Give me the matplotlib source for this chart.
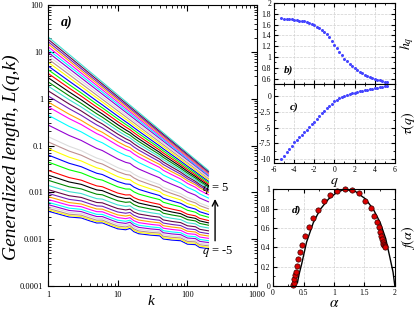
import numpy as np
import matplotlib
matplotlib.use('Agg')
import matplotlib.pyplot as plt
import matplotlib.ticker as ptick

plt.rcParams['font.family'] = ['Liberation Serif', 'DejaVu Serif']
plt.rcParams['mathtext.fontset'] = 'stix'

# ---- panel a: generalized length, log10 L at k=1 and k=200 (top line q=5 ... bottom q=-5)
k_knots = [1, 2, 3, 4, 5, 6, 8, 10, 13, 15, 17, 20, 30, 40, 45, 60, 80, 100, 130, 150, 200]
wiggle = [0, -0.02, 0.02, 0.0, -0.01, 0.02, -0.01, -0.03, -0.01, 0.04, -0.01,
          -0.03, 0.0, 0.03, -0.02, 0.0, 0.03, -0.01, 0.02, -0.02, 0]
logL_start = [1.32, 1.27, 1.22, 1.17, 1.11, 1.05, 0.99, 0.92, 0.85, 0.78, 0.70, 0.62,
              0.54, 0.45, 0.36, 0.27, 0.17, 0.06, -0.07, -0.17, -0.35, -0.56, -0.81,
              -0.92, -1.06, -1.20, -1.35, -1.53, -1.63, -1.74, -1.85, -1.94, -2.02,
              -2.09, -2.15, -2.21, -2.26, -2.30, -2.34, -2.37, -2.40]
logL_end = [-1.53, -1.55, -1.57, -1.59, -1.61, -1.63, -1.65, -1.68, -1.70, -1.73, -1.76,
            -1.79, -1.82, -1.85, -1.88, -1.91, -1.94, -1.97, -2.00, -2.05, -2.12, -2.20,
            -2.30, -2.35, -2.41, -2.47, -2.53, -2.60, -2.65, -2.70, -2.76, -2.82, -2.88,
            -2.93, -2.98, -3.03, -3.07, -3.11, -3.14, -3.17, -3.20]
grace = ['#000000', '#ff0000', '#00ff00', '#0000ff', '#ffff00', '#bc8f8f', '#dcdcdc',
         '#9400d3', '#00ffff', '#ff00ff', '#ffa500', '#7221bc', '#670748', '#40e0d0',
         '#008b00']

# ---- panels b, c: h_q and tau(q)
q_vals = np.arange(-5.25, 5.26, 0.25)
h_q = [1.715, 1.712, 1.708, 1.703, 1.697, 1.69, 1.684, 1.677, 1.669, 1.66, 1.647, 1.632,
       1.613, 1.59, 1.565, 1.535, 1.503, 1.47, 1.42, 1.37, 1.30, 1.23, 1.16, 1.09, 1.03,
       0.97, 0.92, 0.87, 0.83, 0.79, 0.76, 0.725, 0.695, 0.67, 0.65, 0.63, 0.61, 0.595,
       0.58, 0.565, 0.553, 0.542, 0.532]
tau_q = [-10.1, -9.55, -9.0, -8.45, -7.9, -7.34, -6.94, -6.54, -6.14, -5.74, -5.32, -4.9,
         -4.47, -4.04, -3.6, -3.16, -2.72, -2.29, -1.9, -1.5, -1.14, -0.80, -0.52, -0.27,
         -0.07, 0.1, 0.24, 0.37, 0.5, 0.62, 0.72, 0.82, 0.92, 1.02, 1.1, 1.18, 1.26, 1.34,
         1.42, 1.5, 1.58, 1.66, 1.74]

# ---- panel d: singularity spectrum
alpha_pts = [0.33, 0.34, 0.35, 0.36, 0.375, 0.39, 0.41, 0.45, 0.48, 0.53, 0.59, 0.65,
             0.73, 0.83, 0.94, 1.05, 1.174, 1.30, 1.41, 1.51, 1.60, 1.66, 1.71, 1.74,
             1.76, 1.78, 1.79, 1.80, 1.81, 1.82, 1.83, 1.84]
f_pts = [0.01, 0.03, 0.07, 0.11, 0.15, 0.21, 0.28, 0.35, 0.43, 0.52, 0.61, 0.70, 0.79,
         0.88, 0.94, 0.98, 1.0, 0.99, 0.96, 0.88, 0.81, 0.73, 0.66, 0.61, 0.56, 0.52,
         0.49, 0.46, 0.44, 0.42, 0.41, 0.40]
alpha_fit = [0.40, 0.43, 0.47, 0.55, 0.66, 0.77, 0.91, 1.05, 1.17, 1.35, 1.52, 1.65,
             1.76, 1.85, 1.91, 1.97, 2.0]
f_fit = [0.035, 0.13, 0.23, 0.455, 0.655, 0.79, 0.90, 0.97, 1.0, 0.98, 0.90, 0.79,
         0.655, 0.49, 0.32, 0.145, 0.0]

fig = plt.figure(figsize=(4.15, 3.11), dpi=100)
tfs = 6

ax1 = fig.add_axes([0.1157, 0.080, 0.504, 0.904])
n = len(logL_start)
lk = np.log10(k_knots)
for i in reversed(range(n)):
    w = np.clip((i - 8) / 30.0, 0, 1)
    logL = logL_start[i] + (logL_end[i] - logL_start[i]) * lk / np.log10(200) + w * np.array(wiggle)
    ax1.plot(k_knots, 10 ** logL, color=grace[(40 - i + 3) % 15], lw=0.8)
ax1.set_xscale('log')
ax1.set_yscale('log')
ax1.set_xlim(1, 1000)
ax1.set_ylim(1e-4, 100)
fmt = ptick.FuncFormatter(lambda v, p: '%g' % v)
ax1.xaxis.set_major_formatter(fmt)
ax1.yaxis.set_major_formatter(fmt)
ax1.tick_params(which='both', direction='in', top=True, right=True, labelsize=tfs)
ax1.tick_params(which='major', length=4)
ax1.tick_params(which='minor', length=2)
ax1.set_ylabel('Generalized length, L(q,k)', fontsize=14, style='italic')
ax1.yaxis.set_label_coords(-0.135, 0.46)
ax1.set_xlabel('k', fontsize=11, style='italic')
ax1.xaxis.set_label_coords(0.49, -0.03)
ax1.text(0.09, 0.94, 'a)', transform=ax1.transAxes, fontsize=10, style='italic',
         weight='bold', ha='center', va='center')
ax1.annotate('', xy=(249, 8.3e-3), xytext=(249, 8.1e-4),
             arrowprops=dict(arrowstyle='->', color='k', lw=1))
ax1.text(257, 0.0123, r'$q$ = 5', fontsize=9, ha='center', va='center')
ax1.text(275, 5.6e-4, r'$q$ = -5', fontsize=9, ha='center', va='center')

def style_small(ax):
    ax.grid(True, which='major', ls='--', color='#d0d0d0', lw=0.5)
    ax.set_axisbelow(True)
    ax.tick_params(which='both', direction='in', top=True, right=True, labelsize=5.5, pad=2)
    ax.tick_params(which='major', length=3)
    ax.tick_params(which='minor', length=1.5)

ax2 = fig.add_axes([0.660, 0.730, 0.2916, 0.260])
ax2.plot(q_vals, h_q, 'o', color='#4444ff', ms=2.2, mew=0)
ax2.set_xlim(-6, 6)
ax2.set_ylim(0.5, 2)
ax2.xaxis.set_major_locator(ptick.MultipleLocator(2))
ax2.xaxis.set_minor_locator(ptick.MultipleLocator(1))
ax2.yaxis.set_major_locator(ptick.FixedLocator([0.6, 0.8, 1, 1.2, 1.4, 1.6, 1.8, 2]))
ax2.yaxis.set_minor_locator(ptick.MultipleLocator(0.1))
ax2.yaxis.set_major_formatter(fmt)
ax2.set_xticklabels([])
style_small(ax2)
ax2.yaxis.set_label_position('right')
ax2.set_ylabel(r'$h_q$', fontsize=10)
ax2.yaxis.set_label_coords(1.03, 0.5)
ax2.text(0.12, 0.17, 'b)', transform=ax2.transAxes, fontsize=8, style='italic',
         weight='bold', ha='center', va='center')

ax3 = fig.add_axes([0.660, 0.476, 0.2916, 0.254])
ax3.plot(q_vals, tau_q, 'o', color='#4444ff', ms=2.2, mew=0)
ax3.set_xlim(-6, 6)
ax3.set_ylim(-10.7, 2)
ax3.xaxis.set_major_locator(ptick.MultipleLocator(2))
ax3.xaxis.set_minor_locator(ptick.MultipleLocator(1))
ax3.yaxis.set_major_locator(ptick.FixedLocator([-10, -7.5, -5, -2.5, 0]))
ax3.yaxis.set_minor_locator(ptick.MultipleLocator(1.25))
ax3.yaxis.set_major_formatter(fmt)
ax3.xaxis.set_major_formatter(fmt)
style_small(ax3)
ax3.yaxis.set_label_position('right')
ax3.set_ylabel(r'$\tau(q)$', fontsize=10)
ax3.yaxis.set_label_coords(1.03, 0.5)
ax3.set_xlabel(r'$q$', fontsize=10)
ax3.xaxis.set_label_coords(0.5, -0.17)
ax3.text(0.165, 0.70, 'c)', transform=ax3.transAxes, fontsize=8, style='italic',
         weight='bold', ha='center', va='center')

ax4 = fig.add_axes([0.658, 0.080, 0.2935, 0.311])
ax4.plot(alpha_fit, f_fit, color='k', lw=1)
ax4.plot(alpha_pts, f_pts, 'o', color='#dd0000', mec='#330000', mew=0.5, ms=3.8, clip_on=False)
ax4.set_xlim(0, 2)
ax4.set_ylim(0, 1)
ax4.xaxis.set_major_locator(ptick.MultipleLocator(0.5))
ax4.xaxis.set_minor_locator(ptick.MultipleLocator(0.25))
ax4.yaxis.set_major_locator(ptick.MultipleLocator(0.2))
ax4.yaxis.set_minor_locator(ptick.MultipleLocator(0.1))
ax4.xaxis.set_major_formatter(fmt)
ax4.yaxis.set_major_formatter(fmt)
style_small(ax4)
ax4.yaxis.set_label_position('right')
ax4.set_ylabel(r'$f(\alpha)$', fontsize=10)
ax4.yaxis.set_label_coords(1.03, 0.5)
ax4.set_xlabel(r'$\alpha$', fontsize=11)
ax4.xaxis.set_label_coords(0.5, -0.11)
ax4.text(0.19, 0.78, 'd)', transform=ax4.transAxes, fontsize=8, style='italic',
         weight='bold', ha='center', va='center')

fig.savefig('out.png', dpi=100)
